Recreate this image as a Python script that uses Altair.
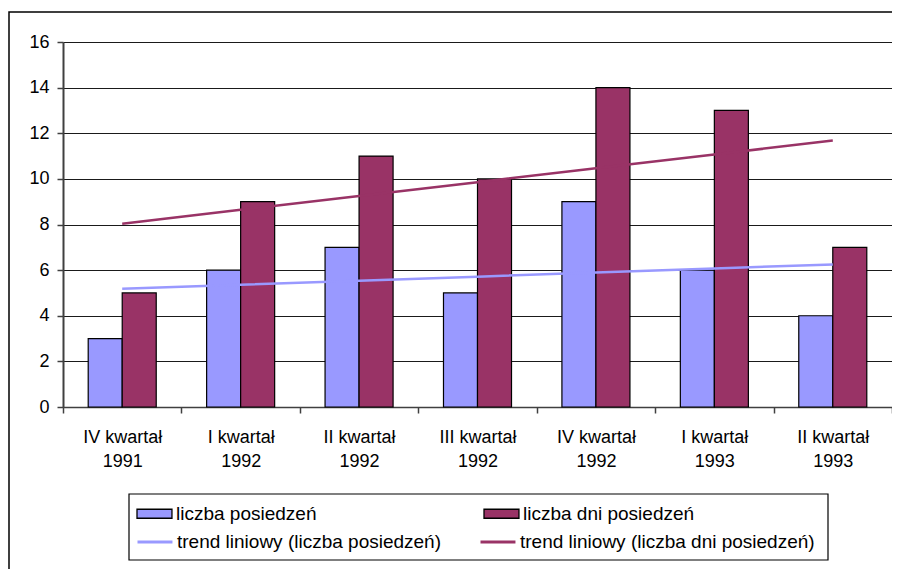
import altair as alt
import numpy as np
import pandas as pd

categories = ["IV kwartał\n1991", "I kwartał\n1992", "II kwartał\n1992", "III kwartał\n1992",
              "IV kwartał\n1992", "I kwartał\n1993", "II kwartał\n1993"]
series_names = ["liczba posiedzeń", "liczba dni posiedzeń"]
trend_names = ["trend liniowy (liczba posiedzeń)", "trend liniowy (liczba dni posiedzeń)"]
posiedzenia = [3, 6, 7, 5, 9, 6, 4]
dni_posiedzen = [5, 9, 11, 10, 14, 13, 7]
colors = ["#9999FF", "#993366"]

rows = []
for s, vals in zip(series_names, [posiedzenia, dni_posiedzen]):
    for c, v in zip(categories, vals):
        rows.append({"kat": c, "seria": s, "wartosc": v})
bars_df = pd.DataFrame(rows)

trend_rows = []
idx = np.arange(1, len(categories) + 1)
for t, vals in zip(trend_names, [posiedzenia, dni_posiedzen]):
    slope, intercept = np.polyfit(idx, np.array(vals, dtype=float), 1)
    for i, c in zip(idx, categories):
        trend_rows.append({"kat": c, "trend": t, "wartosc": slope * i + intercept})
trend_df = pd.DataFrame(trend_rows)

FONT = "Liberation Sans"

common_legend = dict(
    title=None, orient="none", direction="horizontal", columns=2, gridAlign="all",
    padding=0, labelFont=FONT, labelFontSize=19, labelColor="black", labelLimit=500,
    labelOffset=15, symbolSize=529,
)
bar_legend = alt.Legend(
    legendX=73, legendY=459, columnPadding=133,
    symbolType="M-1,-0.39H2.04V0.39H-1Z", symbolStrokeColor="black", symbolStrokeWidth=1.3,
    symbolOpacity=1, **common_legend)
line_legend = alt.Legend(
    legendX=73, legendY=487, columnPadding=2,
    symbolType="M-1,0H2.04", symbolStrokeWidth=3, symbolOpacity=1, **common_legend)

x_enc = alt.X("kat:N", sort=categories, scale=alt.Scale(paddingInner=0, paddingOuter=0),
              axis=alt.Axis(title=None, labelAngle=0, tickBand="extent",
                            labelExpr="split(datum.label, '\\n')", labelLineHeight=24,
                            labelFont=FONT, labelFontSize=18, labelColor="black",
                            labelPadding=15, tickSize=6, tickColor="#404040", tickWidth=1.5,
                            domainColor="#404040", domainWidth=1.5, labelBaseline="top",
                            grid=False))
y_enc = alt.Y("wartosc:Q", scale=alt.Scale(domain=[0, 16], nice=False),
              axis=alt.Axis(title=None, values=list(range(0, 17, 2)), grid=True,
                            gridColor="#1a1a1a", gridWidth=1, tickSize=6, tickColor="#404040",
                            tickWidth=1.5, domainColor="#404040", domainWidth=2,
                            labelFont=FONT, labelFontSize=18, labelColor="black",
                            labelPadding=8))

bars = alt.Chart(bars_df).mark_bar(stroke="black", strokeWidth=1.2).encode(
    x=x_enc, y=y_enc,
    xOffset=alt.XOffset("seria:N", sort=series_names,
                        scale=alt.Scale(paddingInner=0, paddingOuter=0.741)),
    fill=alt.Fill("seria:N", sort=series_names,
                  scale=alt.Scale(domain=series_names, range=colors), legend=bar_legend),
)

lines = alt.Chart(trend_df).mark_line(strokeWidth=2.5).encode(
    x=alt.X("kat:N", sort=categories), y=alt.Y("wartosc:Q"),
    stroke=alt.Stroke("trend:N", sort=trend_names,
                      scale=alt.Scale(domain=trend_names, range=colors), legend=line_legend),
)

deco = pd.DataFrame({"a": [0]})
frame = alt.Chart(deco).mark_rect(
    fill=None, stroke="black", strokeWidth=1.5, clip=False
).encode(x=alt.value(-54), x2=alt.value(900), y=alt.value(-30), y2=alt.value(600))

legend_box = alt.Chart(deco).mark_rect(
    fill="white", stroke="black", strokeWidth=1.2, clip=False
).encode(x=alt.value(66), x2=alt.value(765), y=alt.value(452), y2=alt.value(518))

chart = alt.layer(frame, legend_box, bars, lines).properties(
    width=829, height=365,
    autosize=alt.AutoSizeParams(type="none"),
    padding={"left": 55, "top": 34, "right": 0, "bottom": 162},
).configure_view(stroke="#7f7f7f", strokeWidth=1.5).configure(background="white")

chart.save("out.html", embed_options={"renderer": "svg", "actions": False})
